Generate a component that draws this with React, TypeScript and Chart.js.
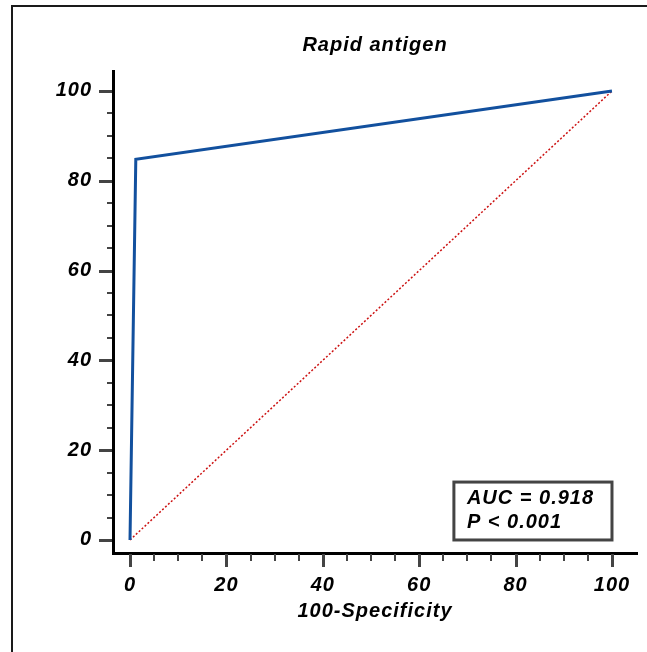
import React, { useEffect, useRef } from "react";
import { Chart, registerables } from "chart.js";

Chart.register(...registerables);

const titleText = "Rapid antigen";
const xAxisTitle = "100-Specificity";
const fpr = [0, 1.2, 100];
const tpr = [0, 84.8, 100];
const diagX = [0, 100];
const diagY = [0, 100];
const majorTicks = [0, 20, 40, 60, 80, 100];
const minorTicks = [5, 10, 15, 25, 30, 35, 45, 50, 55, 65, 70, 75, 85, 90, 95];
const annotationLines = ["AUC = 0.918", "P < 0.001"];
const annotationBox = { x0: 67.2, x1: 100, y0: 0, y1: 12.9 };

const FONT = '"Liberation Sans", Arial, sans-serif';
const SPACING = "1px";

const W = 647;
const H = 652;

const decorPlugin = {
  id: "decor",
  beforeUpdate(chart: any) {
    chart.ctx.letterSpacing = SPACING;
  },
  beforeDraw(chart: any) {
    const ctx = chart.ctx;
    ctx.letterSpacing = SPACING;
    ctx.save();
    ctx.strokeStyle = "#1a1a1a";
    ctx.lineWidth = 2;
    ctx.beginPath();
    ctx.moveTo(12, H);
    ctx.lineTo(12, 6);
    ctx.lineTo(W, 6);
    ctx.stroke();
    ctx.restore();
  },
  afterDraw(chart: any) {
    const ctx = chart.ctx;
    const xs = chart.scales.x;
    const ys = chart.scales.y;
    const area = chart.chartArea;
    ctx.save();
    ctx.strokeStyle = "#444";
    const drawX = (v: number, len: number, w: number) => {
      const px = Math.round(xs.getPixelForValue(v)) + (w % 2 ? 0.5 : 0);
      ctx.lineWidth = w;
      ctx.beginPath();
      ctx.moveTo(px, area.bottom + 1);
      ctx.lineTo(px, area.bottom + len);
      ctx.stroke();
    };
    const drawY = (v: number, len: number, w: number) => {
      const py = Math.round(ys.getPixelForValue(v)) + (w % 2 ? 0.5 : 0);
      ctx.lineWidth = w;
      ctx.beginPath();
      ctx.moveTo(area.left - 1, py);
      ctx.lineTo(area.left - len, py);
      ctx.stroke();
    };
    majorTicks.forEach((v) => { drawX(v, 14, 3); drawY(v, 14, 3); });
    minorTicks.forEach((v) => { drawX(v, 8, 2); drawY(v, 6, 2); });

    // annotation box
    const bx0 = xs.getPixelForValue(annotationBox.x0);
    const bx1 = xs.getPixelForValue(annotationBox.x1);
    const by0 = ys.getPixelForValue(annotationBox.y1);
    const by1 = ys.getPixelForValue(annotationBox.y0);
    ctx.fillStyle = "#fff";
    ctx.fillRect(bx0, by0, bx1 - bx0, by1 - by0);
    ctx.strokeStyle = "#444";
    ctx.lineWidth = 3;
    ctx.strokeRect(bx0, by0, bx1 - bx0, by1 - by0);
    ctx.fillStyle = "#000";
    ctx.letterSpacing = SPACING;
    ctx.font = `italic bold 20px ${FONT}`;
    ctx.textAlign = "left";
    ctx.textBaseline = "middle";
    annotationLines.forEach((t, i) => {
      ctx.fillText(t, bx0 + 13, by0 + 16 + i * 24);
    });
    ctx.restore();
  },
};

export default function App() {
  const ref = useRef<HTMLCanvasElement | null>(null);
  useEffect(() => {
    if (!ref.current) return;
    const tickFont = { family: FONT, size: 20, weight: "bold" as const, style: "italic" as const };
    const chart = new Chart(ref.current, {
      type: "line",
      data: {
        datasets: [
          {
            label: "ROC",
            data: fpr.map((x, i) => ({ x, y: tpr[i] })),
            borderColor: "#12509e",
            borderWidth: 3,
            pointRadius: 0,
            tension: 0,
            order: 0,
          },
          {
            label: "Reference",
            data: diagX.map((x, i) => ({ x, y: diagY[i] })),
            borderColor: "#cc1111",
            borderWidth: 1.5,
            borderDash: [2, 2],
            pointRadius: 0,
            tension: 0,
            order: 1,
          },
        ],
      },
      options: {
        responsive: false,
        animation: false,
        layout: { padding: { left: 0, right: 10, top: 0, bottom: 0 } },
        plugins: {
          legend: { display: false },
          tooltip: { enabled: false },
          title: {
            display: true,
            text: titleText,
            fullSize: false,
            color: "#000",
            font: { family: FONT, size: 20, weight: "bold", style: "italic" },
            padding: { top: 33, bottom: 14 },
          },
        },
        scales: {
          x: {
            type: "linear",
            min: -3.53,
            max: 105.19,
            afterBuildTicks: (s: any) => { s.ticks = majorTicks.map((v) => ({ value: v })); },
            afterFit: (s: any) => { s.height = 99; },
            grid: { display: true, drawOnChartArea: false, drawTicks: true, tickLength: 20, tickColor: "rgba(0,0,0,0)" },
            border: { display: true, color: "#000", width: 3 },
            ticks: { color: "#000", font: tickFont, padding: 0, maxRotation: 0, autoSkip: false },
            title: {
              display: true,
              text: xAxisTitle,
              color: "#000",
              font: tickFont,
              padding: { top: 0, bottom: 29 },
            },
          },
          y: {
            type: "linear",
            min: -2.9,
            max: 104.45,
            afterBuildTicks: (s: any) => { s.ticks = majorTicks.map((v) => ({ value: v })); },
            afterFit: (s: any) => { s.width = 113; },
            grid: { display: true, drawOnChartArea: false, drawTicks: true, tickLength: 21, tickColor: "rgba(0,0,0,0)" },
            border: { display: true, color: "#000", width: 3 },
            ticks: { color: "#000", font: tickFont, padding: 0, autoSkip: false },
          },
        },
      },
      plugins: [decorPlugin],
    });
    return () => chart.destroy();
  }, []);
  return (
    <div style={{ position: "fixed", left: 0, top: 0, width: W, height: H, background: "#fff" }}>
      <canvas ref={ref} width={W} height={H} style={{ display: "block" }} />
    </div>
  );
}
